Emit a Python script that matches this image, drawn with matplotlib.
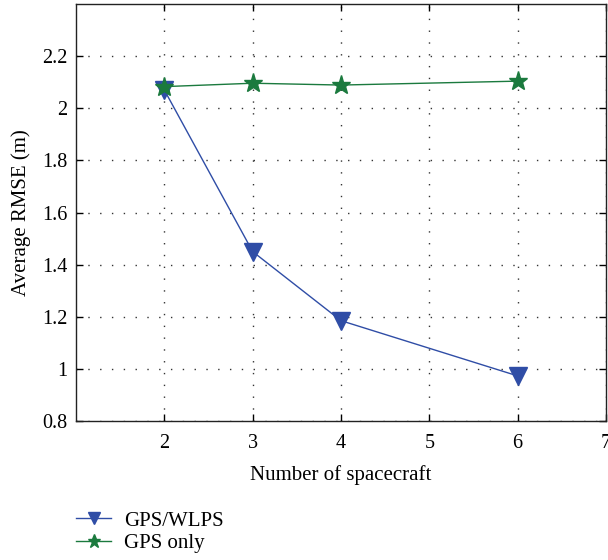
import matplotlib
matplotlib.use("Agg")
import matplotlib.pyplot as plt

x_wlps = [2, 3, 4, 6]
y_wlps = [2.07, 1.45, 1.185, 0.973]
x_gps = [2, 3, 4, 6]
y_gps = [2.083, 2.096, 2.089, 2.104]
xticks = [2, 3, 4, 5, 6, 7]
yticks = [0.8, 1.0, 1.2, 1.4, 1.6, 1.8, 2.0, 2.2]

plt.rcParams['font.family'] = ['Liberation Serif', 'DejaVu Serif']
fig = plt.figure(figsize=(6.08, 5.6), dpi=100)
ax = fig.add_axes([76/608, 1 - 421/560, (606-76)/608, (421-4)/560])

blue = '#2f4da6'
green = '#1b7a3e'
l1, = ax.plot(x_wlps, y_wlps, color=blue, lw=1.0, marker='v', ms=13, mfc=blue, mec=blue, label='GPS/WLPS')
l2, = ax.plot(x_gps, y_gps, color=green, lw=1.0, marker='*', ms=14, mfc=green, mec=green, label='GPS only')

ax.set_xlim(1, 7)
ax.set_ylim(0.8, 2.4)
ax.set_xticks(xticks)
ax.set_yticks(yticks)
ax.set_yticklabels(['%g' % v for v in yticks])
ax.tick_params(direction='in', top=True, right=True, labelsize=14.5, length=5, width=1, pad=6)
ax.tick_params(axis='x', pad=9)
ax.grid(True, linestyle=(0, (1, 7.5)), color='#333333', lw=1.0)
for s in ax.spines.values():
    s.set_linewidth(1.0)
    s.set_color('#222222')
ax.set_xlabel('Number of spacecraft', fontsize=15, labelpad=9)
ax.set_ylabel('Average RMSE (m)', fontsize=15, labelpad=8)

fig.legend(handles=[l1, l2], loc='upper left', bbox_to_anchor=(76/608, 1 - 511/560),
           frameon=False, fontsize=15, handlelength=1.7, labelspacing=0.15,
           handletextpad=0.6, borderaxespad=0, borderpad=0, markerscale=0.7)

fig.savefig('out.png', dpi=100)
